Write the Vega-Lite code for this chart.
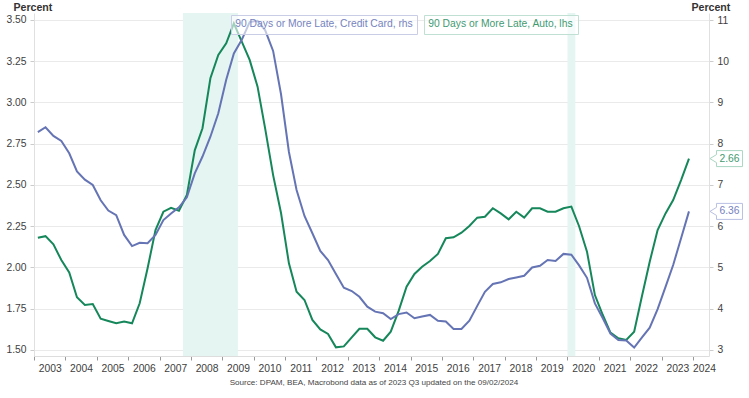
{
  "$schema": "https://vega.github.io/schema/vega-lite/v6.json",
  "width": 675,
  "height": 343,
  "autosize": {"type": "none"},
  "padding": {"left": 34, "top": 13, "right": 40, "bottom": 42},
  "background": "white",
  "config": {
    "font": "Liberation Sans",
    "view": {"stroke": null},
    "axis": {"labelFont": "Liberation Sans", "labelFontSize": 10.3, "labelColor": "#404040", "titleFont": "Liberation Sans"}
  },
  "title": {
    "text": "Source: DPAM, BEA, Macrobond data as of 2023 Q3 updated on the 09/02/2024",
    "orient": "bottom",
    "anchor": "middle",
    "fontSize": 8.1,
    "fontWeight": "normal",
    "color": "#444444",
    "offset": 6,
    "dx": 2.5
  },
  "datasets": {
    "recessions": [
      {"start": "2007-10-01", "end": "2009-07-01"},
      {"start": "2020-01-01", "end": "2020-04-01"}
    ],
    "series": [
      {"date": "2003-02-15", "auto": 2.18, "card": 8.28},
      {"date": "2003-05-15", "auto": 2.19, "card": 8.40},
      {"date": "2003-08-15", "auto": 2.14, "card": 8.19},
      {"date": "2003-11-15", "auto": 2.045, "card": 8.07},
      {"date": "2004-02-15", "auto": 1.97, "card": 7.77},
      {"date": "2004-05-15", "auto": 1.82, "card": 7.33},
      {"date": "2004-08-15", "auto": 1.773, "card": 7.13},
      {"date": "2004-11-15", "auto": 1.779, "card": 7.00},
      {"date": "2005-02-15", "auto": 1.69, "card": 6.63},
      {"date": "2005-05-15", "auto": 1.676, "card": 6.38},
      {"date": "2005-08-15", "auto": 1.662, "card": 6.27},
      {"date": "2005-11-15", "auto": 1.672, "card": 5.79},
      {"date": "2006-02-15", "auto": 1.662, "card": 5.52},
      {"date": "2006-05-15", "auto": 1.783, "card": 5.60},
      {"date": "2006-08-15", "auto": 1.995, "card": 5.59},
      {"date": "2006-11-15", "auto": 2.227, "card": 5.79},
      {"date": "2007-02-15", "auto": 2.338, "card": 6.15},
      {"date": "2007-05-15", "auto": 2.362, "card": 6.31},
      {"date": "2007-08-15", "auto": 2.344, "card": 6.46},
      {"date": "2007-11-15", "auto": 2.439, "card": 6.70},
      {"date": "2008-02-15", "auto": 2.71, "card": 7.28},
      {"date": "2008-05-15", "auto": 2.844, "card": 7.69},
      {"date": "2008-08-15", "auto": 3.147, "card": 8.17},
      {"date": "2008-11-15", "auto": 3.288, "card": 8.74},
      {"date": "2009-02-15", "auto": 3.359, "card": 9.55},
      {"date": "2009-05-15", "auto": 3.48, "card": 10.19},
      {"date": "2009-08-15", "auto": 3.369, "card": 10.52},
      {"date": "2009-11-15", "auto": 3.258, "card": 10.95},
      {"date": "2010-02-15", "auto": 3.096, "card": 10.98},
      {"date": "2010-05-15", "auto": 2.84, "card": 10.75},
      {"date": "2010-08-15", "auto": 2.56, "card": 10.25},
      {"date": "2010-11-15", "auto": 2.33, "card": 9.2},
      {"date": "2011-02-15", "auto": 2.025, "card": 7.8},
      {"date": "2011-05-15", "auto": 1.853, "card": 6.88},
      {"date": "2011-08-15", "auto": 1.803, "card": 6.25},
      {"date": "2011-11-15", "auto": 1.682, "card": 5.83},
      {"date": "2012-02-15", "auto": 1.625, "card": 5.40},
      {"date": "2012-05-15", "auto": 1.597, "card": 5.18},
      {"date": "2012-08-15", "auto": 1.516, "card": 4.84},
      {"date": "2012-11-15", "auto": 1.522, "card": 4.51},
      {"date": "2013-02-15", "auto": 1.577, "card": 4.43},
      {"date": "2013-05-15", "auto": 1.629, "card": 4.29},
      {"date": "2013-08-15", "auto": 1.629, "card": 4.05},
      {"date": "2013-11-15", "auto": 1.577, "card": 3.93},
      {"date": "2014-02-15", "auto": 1.556, "card": 3.89},
      {"date": "2014-05-15", "auto": 1.611, "card": 3.75},
      {"date": "2014-08-15", "auto": 1.737, "card": 3.87},
      {"date": "2014-11-15", "auto": 1.884, "card": 3.91},
      {"date": "2015-02-15", "auto": 1.961, "card": 3.77},
      {"date": "2015-05-15", "auto": 2.005, "card": 3.81},
      {"date": "2015-08-15", "auto": 2.039, "card": 3.85},
      {"date": "2015-11-15", "auto": 2.082, "card": 3.71},
      {"date": "2016-02-15", "auto": 2.177, "card": 3.69},
      {"date": "2016-05-15", "auto": 2.183, "card": 3.51},
      {"date": "2016-08-15", "auto": 2.211, "card": 3.51},
      {"date": "2016-11-15", "auto": 2.252, "card": 3.71},
      {"date": "2017-02-15", "auto": 2.302, "card": 4.07},
      {"date": "2017-05-15", "auto": 2.308, "card": 4.41},
      {"date": "2017-08-15", "auto": 2.359, "card": 4.60},
      {"date": "2017-11-15", "auto": 2.328, "card": 4.64},
      {"date": "2018-02-15", "auto": 2.292, "card": 4.72},
      {"date": "2018-05-15", "auto": 2.338, "card": 4.76},
      {"date": "2018-08-15", "auto": 2.302, "card": 4.80},
      {"date": "2018-11-15", "auto": 2.359, "card": 5.00},
      {"date": "2019-02-15", "auto": 2.359, "card": 5.04},
      {"date": "2019-05-15", "auto": 2.338, "card": 5.18},
      {"date": "2019-08-15", "auto": 2.338, "card": 5.16},
      {"date": "2019-11-15", "auto": 2.359, "card": 5.33},
      {"date": "2020-02-15", "auto": 2.369, "card": 5.31},
      {"date": "2020-05-15", "auto": 2.25, "card": 5.05},
      {"date": "2020-08-15", "auto": 2.096, "card": 4.75},
      {"date": "2020-11-15", "auto": 1.833, "card": 4.13},
      {"date": "2021-02-15", "auto": 1.712, "card": 3.77},
      {"date": "2021-05-15", "auto": 1.605, "card": 3.40},
      {"date": "2021-08-15", "auto": 1.571, "card": 3.24},
      {"date": "2021-11-15", "auto": 1.561, "card": 3.23},
      {"date": "2022-02-15", "auto": 1.611, "card": 3.06},
      {"date": "2022-05-15", "auto": 1.823, "card": 3.30},
      {"date": "2022-08-15", "auto": 2.035, "card": 3.54},
      {"date": "2022-11-15", "auto": 2.227, "card": 3.99},
      {"date": "2023-02-15", "auto": 2.328, "card": 4.53},
      {"date": "2023-05-15", "auto": 2.409, "card": 5.06},
      {"date": "2023-08-15", "auto": 2.53, "card": 5.71},
      {"date": "2023-11-15", "auto": 2.66, "card": 6.36}
    ]
  },
  "layer": [
    {
      "data": {"name": "recessions"},
      "mark": {"type": "rect", "color": "#e4f5f2"},
      "encoding": {
        "x": {
          "field": "start", "type": "temporal",
          "scale": {"domain": [{"year": 2003, "month": 1, "date": 1}, {"year": 2024, "month": 7, "date": 5}]},
          "axis": {
            "format": "%Y",
            "tickCount": {"interval": "year", "step": 1},
            "labelOffset": {"condition": {"test": "year(datum.value) == 2024", "value": 11}, "value": 15.7},
            "grid": false,
            "domainColor": "#dddddd",
            "tickColor": "#999999",
            "tickSize": 4,
            "labelPadding": 3,
            "labelFlush": false,
            "labelOverlap": false,
            "title": null
          }
        },
        "x2": {"field": "end"}
      }
    },
    {
      "data": {"name": "series"},
      "encoding": {
        "x": {"field": "date", "type": "temporal", "scale": {"domain": [{"year": 2003, "month": 1, "date": 1}, {"year": 2024, "month": 7, "date": 5}]}},
        "y": {
          "field": "auto", "type": "quantitative",
          "scale": {"domain": [1.463636, 3.542424], "nice": false, "zero": false},
          "axis": {
            "orient": "left",
            "values": [1.5, 1.75, 2, 2.25, 2.5, 2.75, 3, 3.25, 3.5],
            "format": ".2f",
            "grid": true,
            "gridColor": "#eaeaea",
            "domainColor": "#e0e0e0",
            "tickColor": "#cccccc",
            "tickSize": 4,
            "labelPadding": 4,
            "title": "Percent",
            "titleAngle": 0,
            "titleAlign": "left",
            "titleBaseline": "alphabetic",
            "titleX": -21,
            "titleY": -3,
            "titleFontSize": 10.6,
            "titleFontWeight": "bold",
            "titleColor": "#333333"
          }
        }
      },
      "layer": [
        {
          "mark": {"type": "line", "strokeWidth": 2},
          "encoding": {
            "color": {
              "datum": "90 Days or More Late, Auto, lhs",
              "type": "nominal",
              "scale": {"range": ["#15875a"]},
              "legend": {
                "orient": "none", "legendX": 390, "legendY": 2, "title": null,
                "symbolSize": 0.01, "symbolStrokeWidth": 0.01, "symbolOpacity": 0, "labelOffset": -10, "labelLimit": 400,
                "padding": 4, "strokeColor": "#bfe0d2", "fillColor": "rgba(255,255,255,0.6)",
                "labelColor": "#3f9a72", "labelFontSize": 10.3, "labelFont": "Liberation Sans"
              }
            }
          }
        },
        {
          "transform": [
            {"window": [{"op": "rank", "as": "r"}], "sort": [{"field": "date", "order": "descending"}]},
            {"filter": "datum.r == 1"}
          ],
          "mark": {
            "type": "point",
            "shape": "M2.1,0L2.75,-0.4L2.75,-0.8L5.35,-0.8L5.35,0.8L2.75,0.8L2.75,0.4Z",
            "size": 400, "filled": true, "fill": "white", "stroke": "#a9d6c2", "strokeWidth": 1, "opacity": 1
          }
        },
        {
          "transform": [
            {"window": [{"op": "rank", "as": "r"}], "sort": [{"field": "date", "order": "descending"}]},
            {"filter": "datum.r == 1"}
          ],
          "mark": {"type": "text", "dx": 40.5, "align": "center", "baseline": "middle", "fontSize": 10.3, "color": "#3f9a72"},
          "encoding": {"text": {"field": "auto", "type": "quantitative", "format": ".2f"}}
        }
      ]
    },
    {
      "data": {"name": "series"},
      "encoding": {
        "x": {"field": "date", "type": "temporal", "scale": {"domain": [{"year": 2003, "month": 1, "date": 1}, {"year": 2024, "month": 7, "date": 5}]}},
        "y": {
          "field": "card", "type": "quantitative",
          "scale": {"domain": [2.854545, 11.169697], "nice": false, "zero": false},
          "axis": {
            "orient": "right",
            "values": [3, 4, 5, 6, 7, 8, 9, 10, 11],
            "format": "d",
            "grid": false,
            "domainColor": "#e0e0e0",
            "tickColor": "#cccccc",
            "tickSize": 4,
            "labelPadding": 4,
            "title": "Percent",
            "titleAngle": 0,
            "titleAlign": "left",
            "titleBaseline": "alphabetic",
            "titleX": -18,
            "titleY": -3,
            "titleFontSize": 10.6,
            "titleFontWeight": "bold",
            "titleColor": "#333333"
          }
        }
      },
      "layer": [
        {
          "mark": {"type": "line", "strokeWidth": 2},
          "encoding": {
            "color": {
              "datum": "90 Days or More Late, Credit Card, rhs",
              "type": "nominal",
              "scale": {"range": ["#6574b4"]},
              "legend": {
                "orient": "none", "legendX": 197, "legendY": 2, "title": null,
                "symbolSize": 0.01, "symbolStrokeWidth": 0.01, "symbolOpacity": 0, "labelOffset": -10, "labelLimit": 400,
                "padding": 4, "strokeColor": "#c9cee6", "fillColor": "rgba(255,255,255,0.6)",
                "labelColor": "#7583c0", "labelFontSize": 10.3, "labelFont": "Liberation Sans"
              }
            }
          }
        },
        {
          "transform": [
            {"window": [{"op": "rank", "as": "r"}], "sort": [{"field": "date", "order": "descending"}]},
            {"filter": "datum.r == 1"}
          ],
          "mark": {
            "type": "point",
            "shape": "M2.1,0L2.75,-0.4L2.75,-0.8L5.35,-0.8L5.35,0.8L2.75,0.8L2.75,0.4Z",
            "size": 400, "filled": true, "fill": "white", "stroke": "#b9c0e2", "strokeWidth": 1, "opacity": 1
          }
        },
        {
          "transform": [
            {"window": [{"op": "rank", "as": "r"}], "sort": [{"field": "date", "order": "descending"}]},
            {"filter": "datum.r == 1"}
          ],
          "mark": {"type": "text", "dx": 40.5, "align": "center", "baseline": "middle", "fontSize": 10.3, "color": "#7583c0"},
          "encoding": {"text": {"field": "card", "type": "quantitative", "format": ".2f"}}
        }
      ]
    }
  ],
  "resolve": {"scale": {"y": "independent", "color": "independent"}}
}
